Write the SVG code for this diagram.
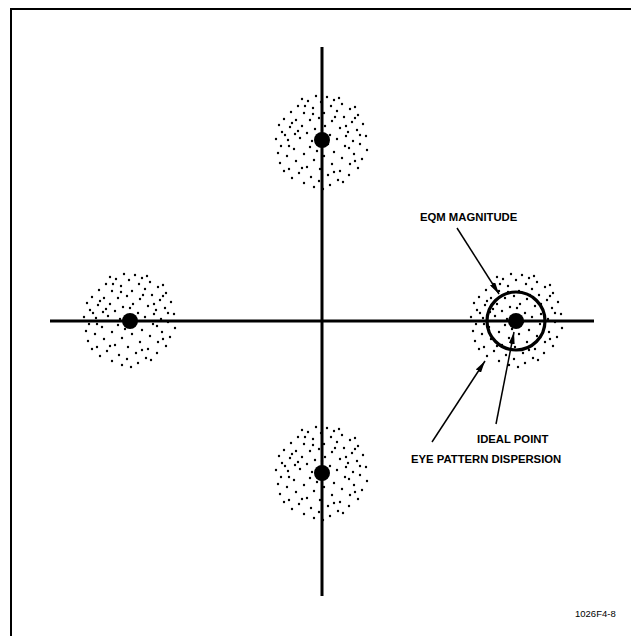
<svg xmlns="http://www.w3.org/2000/svg" xmlns:xlink="http://www.w3.org/1999/xlink" width="631" height="636" viewBox="0 0 631 636">
<style>
.lbl{font-family:"Liberation Sans",Arial,sans-serif;font-weight:bold;font-size:11.3px;fill:#000}
.fig{font-family:"Liberation Sans",Arial,sans-serif;font-size:9.5px;fill:#000}
.axis{stroke:#000;stroke-width:3;fill:none}
.frame{stroke:#000;stroke-width:2;fill:none}
.arrow{stroke:#000;stroke-width:1.5;fill:none;marker-end:url(#ah)}
.pt{fill:#000}
</style>
<defs>
<marker id="ah" markerUnits="userSpaceOnUse" markerWidth="12" markerHeight="6" refX="12" refY="3" orient="auto"><path d="M0,0 L12,3 L0,6 z" fill="#000"/></marker>
<g id="cloud" fill="#000">
<circle cx="-6" cy="-46" r="1.2"/><circle cx="5" cy="-45" r="1.2"/><circle cx="12" cy="-42" r="1.2"/><circle cx="-14" cy="-41" r="1.2"/><circle cx="-1" cy="-40" r="1.2"/><circle cx="20" cy="-38" r="1.2"/><circle cx="-24" cy="-36" r="1.2"/><circle cx="9" cy="-36" r="1.2"/><circle cx="-9" cy="-34" r="1.2"/><circle cx="28" cy="-33" r="1.2"/>
<circle cx="15" cy="-31" r="1.2"/><circle cx="-31" cy="-30" r="1.2"/><circle cx="-18" cy="-29" r="1.2"/><circle cx="2" cy="-29" r="1.2"/><circle cx="36" cy="-27" r="1.2"/><circle cx="-3" cy="-24" r="1.2"/><circle cx="22" cy="-25" r="1.2"/><circle cx="-38" cy="-23" r="1.2"/><circle cx="-26" cy="-22" r="1.2"/><circle cx="-12" cy="-22" r="1.2"/>
<circle cx="10" cy="-21" r="1.2"/><circle cx="30" cy="-20" r="1.2"/><circle cx="41" cy="-18" r="1.2"/><circle cx="-43" cy="-17" r="1.2"/><circle cx="-20" cy="-16" r="1.2"/><circle cx="-32" cy="-15" r="1.2"/><circle cx="3" cy="-16" r="1.2"/><circle cx="18" cy="-14" r="1.2"/><circle cx="-7" cy="-13" r="1.2"/><circle cx="35" cy="-12" r="1.2"/>
<circle cx="26" cy="-10" r="1.2"/><circle cx="-40" cy="-10" r="1.2"/><circle cx="-27" cy="-8" r="1.2"/><circle cx="-15" cy="-9" r="1.2"/><circle cx="44" cy="-6" r="1.2"/><circle cx="8" cy="-7" r="1.2"/><circle cx="-46" cy="-3" r="1.2"/><circle cx="-34" cy="-2" r="1.2"/><circle cx="-22" cy="-4" r="1.2"/><circle cx="15" cy="-3" r="1.2"/>
<circle cx="31" cy="-1" r="1.2"/><circle cx="38" cy="2" r="1.2"/><circle cx="-41" cy="4" r="1.2"/><circle cx="-12" cy="5" r="1.2"/><circle cx="23" cy="4" r="1.2"/><circle cx="-28" cy="7" r="1.2"/><circle cx="45" cy="8" r="1.2"/><circle cx="12" cy="10" r="1.2"/><circle cx="-44" cy="11" r="1.2"/><circle cx="32" cy="12" r="1.2"/>
<circle cx="-18" cy="12" r="1.2"/><circle cx="-35" cy="14" r="1.2"/><circle cx="2" cy="14" r="1.2"/><circle cx="20" cy="16" r="1.2"/><circle cx="40" cy="17" r="1.2"/><circle cx="-8" cy="18" r="1.2"/><circle cx="-26" cy="19" r="1.2"/><circle cx="-42" cy="21" r="1.2"/><circle cx="28" cy="22" r="1.2"/><circle cx="10" cy="22" r="1.2"/>
<circle cx="-15" cy="25" r="1.2"/><circle cx="36" cy="26" r="1.2"/><circle cx="-33" cy="27" r="1.2"/><circle cx="-2" cy="27" r="1.2"/><circle cx="18" cy="29" r="1.2"/><circle cx="-23" cy="31" r="1.2"/><circle cx="6" cy="33" r="1.2"/><circle cx="27" cy="33" r="1.2"/><circle cx="-11" cy="35" r="1.2"/><circle cx="-30" cy="36" r="1.2"/>
<circle cx="16" cy="38" r="1.2"/><circle cx="-3" cy="39" r="1.2"/><circle cx="-18" cy="41" r="1.2"/><circle cx="8" cy="43" r="1.2"/><circle cx="-8" cy="45" r="1.2"/><circle cx="1" cy="47" r="1.2"/><circle cx="17" cy="-44" r="1.2"/><circle cx="-20" cy="-43" r="1.2"/><circle cx="33" cy="-35" r="1.2"/><circle cx="24" cy="-16" r="1.2"/>
<circle cx="-10" cy="-1" r="1.2"/><circle cx="6" cy="2" r="1.2"/><circle cx="-24" cy="-11" r="1.2"/><circle cx="13" cy="-25" r="1.2"/><circle cx="-17" cy="-36" r="1.2"/><circle cx="33" cy="-24" r="1.2"/><circle cx="-37" cy="-7" r="1.2"/><circle cx="27" cy="6" r="1.2"/><circle cx="-5" cy="9" r="1.2"/><circle cx="-30" cy="-19" r="1.2"/>
<circle cx="38" cy="-7" r="1.2"/><circle cx="-20" cy="26" r="1.2"/><circle cx="21" cy="40" r="1.2"/><circle cx="33" cy="19" r="1.2"/><circle cx="-38" cy="29" r="1.2"/><circle cx="0" cy="-12" r="1.2"/><circle cx="-9" cy="-28" r="1.2"/><circle cx="24" cy="-6" r="1.2"/><circle cx="-33" cy="4" r="1.2"/><circle cx="12" cy="30" r="1.2"/>
</g>
</defs>
<rect width="631" height="636" fill="#fff"/>
<path class="frame" d="M11,636 V9 H631"/>
<g id="clouds">
<use xlink:href="#cloud" href="#cloud" x="322" y="142"/>
<use xlink:href="#cloud" href="#cloud" x="130" y="320"/>
<use xlink:href="#cloud" href="#cloud" x="517" y="320"/>
<use xlink:href="#cloud" href="#cloud" x="322" y="473"/>
</g>
<g id="axes">
<line class="axis" x1="50" y1="321" x2="594" y2="321"/>
<line class="axis" x1="322" y1="47" x2="322" y2="596"/>
</g>
<g id="point-top"><circle class="pt" cx="322" cy="140" r="8"/></g>
<g id="point-left"><circle class="pt" cx="130" cy="321" r="8"/></g>
<g id="point-right"><circle class="pt" cx="516" cy="321" r="8"/></g>
<g id="point-bottom"><circle class="pt" cx="322" cy="473" r="8"/></g>
<g id="eqm-circle"><circle cx="516" cy="321" r="29" fill="none" stroke="#000" stroke-width="3.2"/></g>
<g id="connectors">
<line class="arrow" x1="457" y1="228" x2="499" y2="294"/>
<line class="arrow" x1="496" y1="424" x2="514" y2="332"/>
<line class="arrow" x1="432" y1="442" x2="485" y2="361"/>
</g>
<g id="label-eqm"><text class="lbl" x="420" y="221">EQM MAGNITUDE</text></g>
<g id="label-ideal"><text class="lbl" x="477" y="443">IDEAL POINT</text></g>
<g id="label-eye"><text class="lbl" x="411" y="463">EYE PATTERN DISPERSION</text></g>
<g id="label-fig"><text class="fig" x="575" y="617">1026F4-8</text></g>
</svg>
